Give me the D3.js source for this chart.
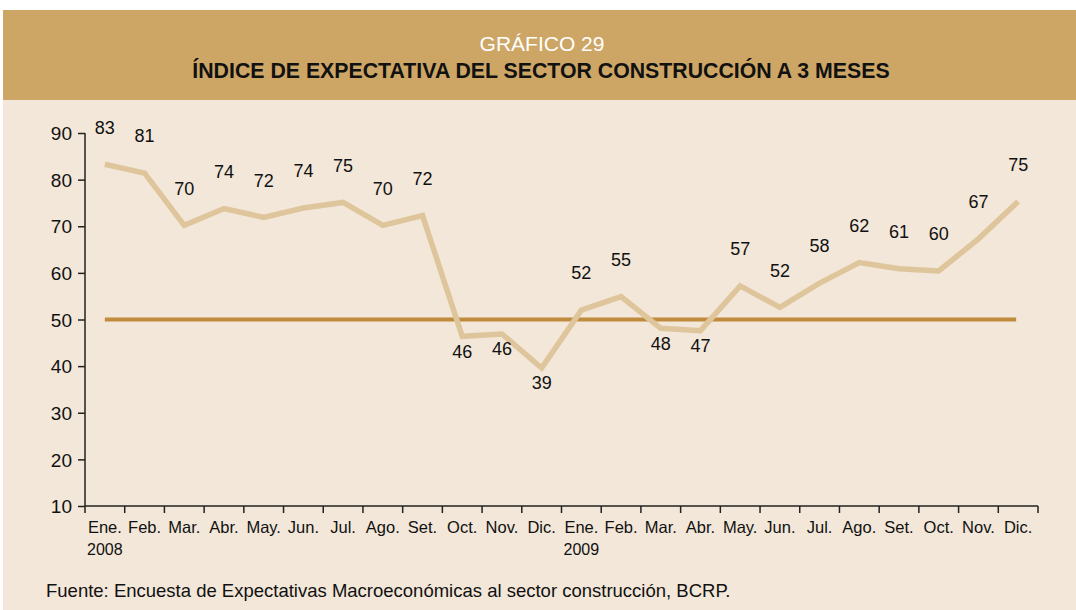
<!DOCTYPE html>
<meta charset="utf-8">
<style>
body { margin: 0; background: #fff; }
text { font-family: "Liberation Sans", Arial, sans-serif; }
</style>
<svg width="1076" height="610"></svg>
<script src="https://d3js.org/d3.v7.min.js"></script>
<script>

var months = ["Ene.", "Feb.", "Mar.", "Abr.", "May.", "Jun.", "Jul.", "Ago.", "Set.", "Oct.", "Nov.", "Dic.",
              "Ene.", "Feb.", "Mar.", "Abr.", "May.", "Jun.", "Jul.", "Ago.", "Set.", "Oct.", "Nov.", "Dic."];
var years = ["2008", "", "", "", "", "", "", "", "", "", "", "", "2009", "", "", "", "", "", "", "", "", "", "", ""];
var values = [83.3, 81.4, 70.2, 73.8, 71.9, 73.9, 75.1, 70.2, 72.3, 46.4, 46.9, 39.6,
              52.0, 54.9, 48.1, 47.6, 57.2, 52.6, 57.8, 62.2, 60.9, 60.4, 67.3, 75.3];
var labels = [83, 81, 70, 74, 72, 74, 75, 70, 72, 46, 46, 39,
              52, 55, 48, 47, 57, 52, 58, 62, 61, 60, 67, 75];
var below = [9, 10, 11, 14, 15];   // labels placed under the point
var yTicks = [10, 20, 30, 40, 50, 60, 70, 80, 90];
var threshold = 50;

var svg = d3.select("svg");

// background panels
svg.append("rect").attr("x", 3).attr("y", 10).attr("width", 1073).attr("height", 600).attr("fill", "#f2e7d8");
svg.append("rect").attr("x", 3).attr("y", 10).attr("width", 1073).attr("height", 90).attr("fill", "#cda666");

svg.append("text").attr("x", 542).attr("y", 51).attr("text-anchor", "middle")
    .attr("fill", "#fff").style("font-size", "21px").text("GRÁFICO 29");
svg.append("text").attr("x", 541).attr("y", 78).attr("text-anchor", "middle")
    .attr("fill", "#111").style("font-size", "21.3px").style("font-weight", "bold")
    .text("ÍNDICE DE EXPECTATIVA DEL SECTOR CONSTRUCCIÓN A 3 MESES");

var x = d3.scaleBand().domain(d3.range(months.length)).range([85, 1038]);
var y = d3.scaleLinear().domain([10, 90]).range([506, 133]);

// y axis
var yAxis = svg.append("g").attr("transform", "translate(85,0)")
    .call(d3.axisLeft(y).tickValues(yTicks).tickSize(7).tickPadding(6));
yAxis.select(".domain").attr("stroke", "#222").attr("stroke-width", 1.5).attr("d", "M0," + y(90) + "V" + y(10));
yAxis.selectAll(".tick line").attr("stroke", "#222").attr("stroke-width", 1.5);
yAxis.selectAll("text").attr("fill", "#111").style("font-size", "19px").attr("dy", "0.35em");

// x axis
var xAxis = svg.append("g").attr("transform", "translate(0,506)");
xAxis.append("line").attr("x1", 85).attr("x2", 1038).attr("stroke", "#222").attr("stroke-width", 1.5);
xAxis.selectAll(".tk").data(d3.range(months.length + 1)).enter().append("line")
    .attr("x1", function(d) { return 85 + d * x.step(); })
    .attr("x2", function(d) { return 85 + d * x.step(); })
    .attr("y1", 0).attr("y2", 7).attr("stroke", "#222").attr("stroke-width", 1.5);
xAxis.selectAll(".ml").data(months).enter().append("text")
    .attr("x", function(d, i) { return x(i) + x.bandwidth() / 2; })
    .attr("y", 27).attr("text-anchor", "middle").attr("fill", "#111")
    .style("font-size", "16.5px").text(function(d) { return d; });
xAxis.selectAll(".yl").data(years).enter().append("text")
    .attr("x", function(d, i) { return x(i) + 2; })
    .attr("y", 49).attr("fill", "#111")
    .style("font-size", "16px").text(function(d) { return d; });

// reference line at 50
svg.append("line")
    .attr("x1", x(0) + x.bandwidth() / 2).attr("x2", x(23) + x.bandwidth() / 2 - 2)
    .attr("y1", y(threshold)).attr("y2", y(threshold))
    .attr("stroke", "#c08b3c").attr("stroke-width", 4);

// series line
var line = d3.line()
    .x(function(d, i) { return x(i) + x.bandwidth() / 2; })
    .y(function(d) { return y(d); });
svg.append("path").datum(values).attr("d", line)
    .attr("fill", "none").attr("stroke", "#dfc59c").attr("stroke-width", 5.5).attr("stroke-linejoin", "miter");

// value labels
svg.selectAll(".vl").data(labels).enter().append("text")
    .attr("x", function(d, i) { return x(i) + x.bandwidth() / 2; })
    .attr("y", function(d, i) {
      return below.indexOf(i) >= 0 ? y(values[i]) + 15 : y(values[i]) - 37;
    })
    .attr("dy", "0.35em")
    .attr("text-anchor", "middle").attr("fill", "#111")
    .style("font-size", "18px").text(function(d) { return d; });

svg.append("text").attr("x", 46).attr("y", 597).attr("fill", "#111")
    .style("font-size", "18.5px")
    .text("Fuente: Encuesta de Expectativas Macroeconómicas al sector construcción, BCRP.");

</script>
